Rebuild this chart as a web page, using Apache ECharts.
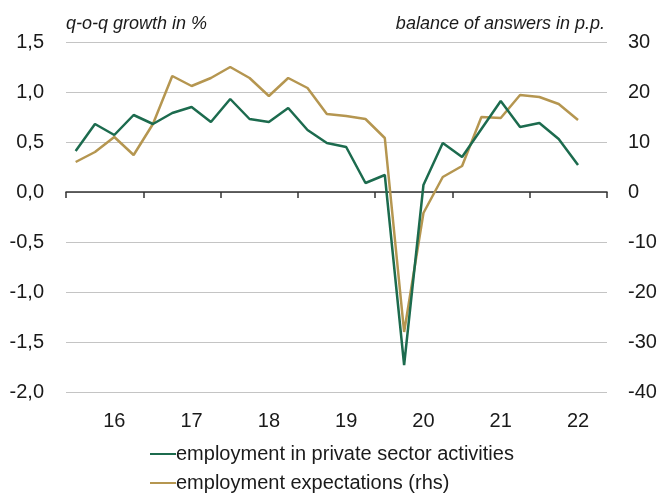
<!DOCTYPE html>
<html>
<head>
<meta charset="utf-8">
<script src="https://cdn.jsdelivr.net/npm/echarts@6/dist/echarts.min.js"></script>
<style>
  html, body { margin: 0; padding: 0; background: #fff; }
  #chart { width: 660px; height: 493px; }
</style>
</head>
<body>
<div id="chart"></div>
<script>
// Quarters 2016Q1 .. 2022Q4 (last quarter has no data yet)
const quarters = [];
for (let y = 16; y <= 22; y++) for (let q = 1; q <= 4; q++) quarters.push(y + 'Q' + q);

// Year labels, one per four quarters
const years = ['16', '17', '18', '19', '20', '21', '22'];

// q-o-q growth in %, employment in private sector activities (left axis)
const employment = [
  0.41, 0.68, 0.57, 0.77, 0.68, 0.79, 0.85, 0.70, 0.93, 0.73, 0.70, 0.84,
  0.62, 0.49, 0.45, 0.09, 0.17, -1.73, 0.07, 0.49, 0.35, 0.63, 0.91, 0.65,
  0.69, 0.53, 0.27
];

// balance of answers in p.p., employment expectations (right axis)
const expectations = [
  6.0, 8.0, 11.0, 7.4, 13.6, 23.2, 21.2, 22.8, 25.0, 22.8, 19.2, 22.8,
  20.8, 15.6, 15.2, 14.6, 10.8, -28.0, -4.2, 3.0, 5.2, 15.0, 14.8, 19.4,
  19.0, 17.6, 14.4
];

const leftTicks = { min: -2, max: 1.5, step: 0.5 };
const rightTicks = { min: -40, max: 30, step: 10 };

const seriesNames = ['employment in private sector activities', 'employment expectations (rhs)'];

const FONT = '"Liberation Sans", Arial, sans-serif';
const TEXT = '#1a1a1a';
const GREEN = '#1c6b4e';
const GOLD = '#b59650';
const GRID = '#c4c4c4';

const chart = echarts.init(document.getElementById('chart'), null, { renderer: 'canvas' });

function legendRow(name, top) {
  return {
    orient: 'horizontal',
    left: 150,
    top: top,
    padding: 0,
    itemWidth: 26,
    itemHeight: 2,
    icon: 'rect',
    selectedMode: false,
    textStyle: { fontFamily: FONT, fontSize: 20, color: TEXT, padding: [0, 0, 0, -5], lineHeight: 20 },
    data: [name]
  };
}

chart.setOption({
  animation: false,
  backgroundColor: '#fff',
  textStyle: { fontFamily: FONT, color: TEXT },
  grid: { left: 66, right: 53, top: 42, bottom: 101, containLabel: false },
  graphic: [
    { type: 'text', left: 66, top: 15,
      style: { text: 'q-o-q growth in %', font: 'italic 18px ' + FONT, fill: TEXT } },
    { type: 'text', right: 55, top: 15,
      style: { text: 'balance of answers in p.p.', font: 'italic 18px ' + FONT, fill: TEXT } }
  ],
  legend: [legendRow(seriesNames[0], 444), legendRow(seriesNames[1], 473)],
  xAxis: [
    {
      type: 'category',
      data: quarters,
      position: 'top',
      boundaryGap: true,
      axisLine: { onZero: true, onZeroAxisIndex: 0, lineStyle: { color: '#333', width: 1.5 } },
      axisTick: { show: true, inside: true, interval: 3, length: 6, lineStyle: { color: '#333', width: 1.5 } },
      axisLabel: { show: false },
      splitLine: { show: false }
    },
    {
      type: 'category',
      data: quarters,
      position: 'bottom',
      boundaryGap: true,
      axisLine: { show: false },
      axisTick: { show: false },
      axisLabel: {
        fontFamily: FONT, fontSize: 20, color: TEXT, margin: 19,
        interval: (idx) => idx % 4 === 2,
        formatter: (val, idx) => years[Math.floor(idx / 4)]
      },
      splitLine: { show: false }
    }
  ],
  yAxis: [
    {
      type: 'value',
      position: 'left',
      min: leftTicks.min, max: leftTicks.max, interval: leftTicks.step,
      axisLine: { show: false },
      axisTick: { show: false },
      axisLabel: {
        fontFamily: FONT, fontSize: 20, color: TEXT, margin: 22,
        formatter: v => v.toFixed(1).replace('.', ',')
      },
      splitLine: { show: true, lineStyle: { color: GRID, width: 1.2 } }
    },
    {
      type: 'value',
      position: 'right',
      min: rightTicks.min, max: rightTicks.max, interval: rightTicks.step,
      axisLine: { show: false },
      axisTick: { show: false },
      axisLabel: { fontFamily: FONT, fontSize: 20, color: TEXT, margin: 21 },
      splitLine: { show: false }
    }
  ],
  series: [
    {
      name: seriesNames[0],
      type: 'line',
      xAxisIndex: 0, yAxisIndex: 0,
      data: employment,
      symbol: 'none',
      color: GREEN,
      lineStyle: { color: GREEN, width: 2.5 },
      z: 3
    },
    {
      name: seriesNames[1],
      type: 'line',
      xAxisIndex: 0, yAxisIndex: 1,
      data: expectations,
      symbol: 'none',
      color: GOLD,
      lineStyle: { color: GOLD, width: 2.5 },
      z: 2
    }
  ]
});
</script>
</body>
</html>
